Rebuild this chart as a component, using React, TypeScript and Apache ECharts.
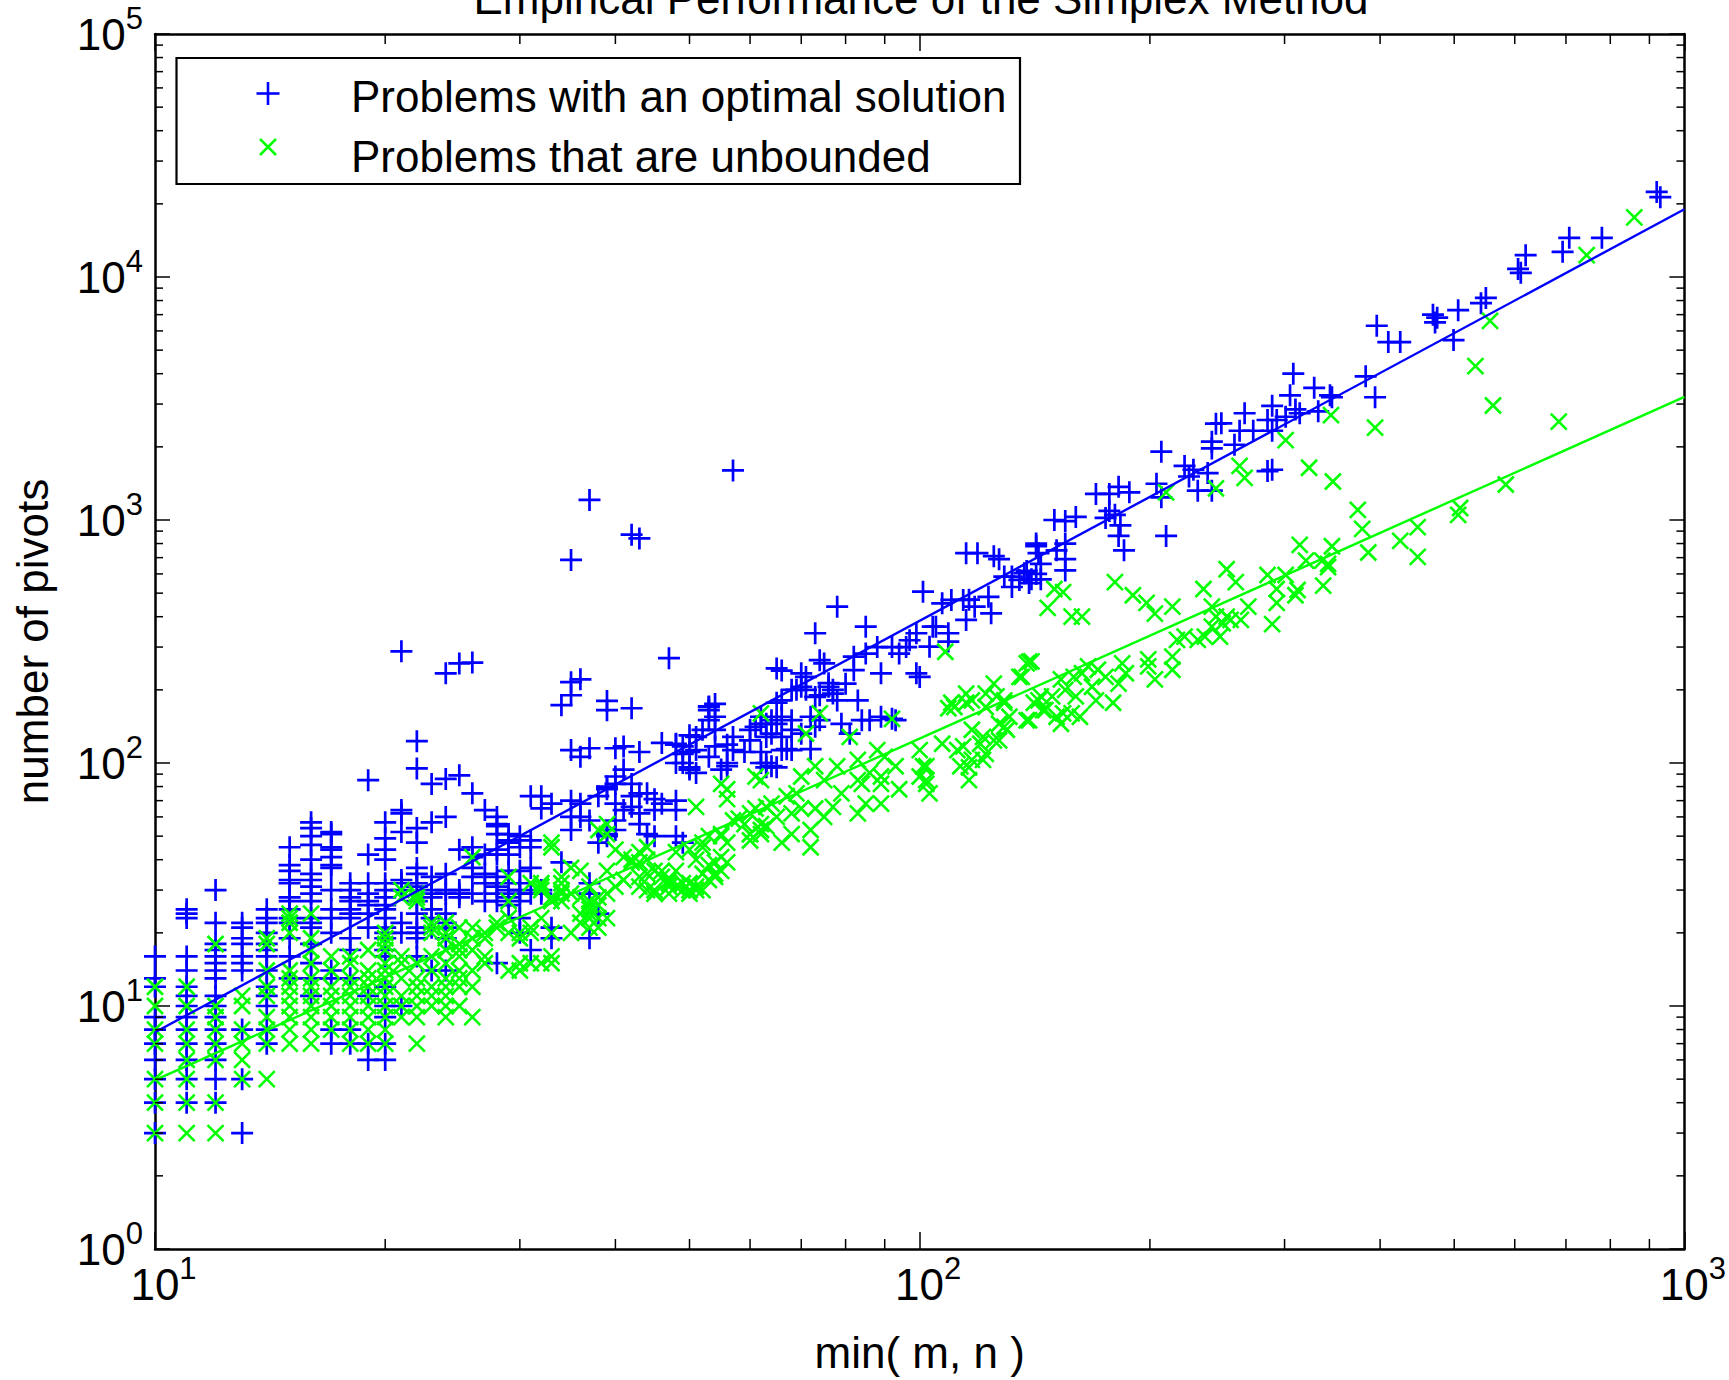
import React, { useEffect, useRef } from "react";
import * as echarts from "echarts";

const BLUE = "#0000ff";
const GREEN = "#00ff00";
const FONT = "'Liberation Sans', Arial, Helvetica, sans-serif";

const titleText = "Empirical Performance of the Simplex Method";
const xName = "min( m, n )";
const yName = "number of pivots";
const optimalName = "Problems with an optimal solution";
const unboundedName = "Problems that are unbounded";

// minor tick positions
const xMinorTicks = [20, 30, 40, 50, 60, 70, 80, 90, 200, 300, 400, 500, 600, 700, 800, 900];
const yMinorTicks = [
  2, 3, 4, 5, 6, 7, 8, 9,
  20, 30, 40, 50, 60, 70, 80, 90,
  200, 300, 400, 500, 600, 700, 800, 900,
  2000, 3000, 4000, 5000, 6000, 7000, 8000, 9000,
  20000, 30000, 40000, 50000, 60000, 70000, 80000, 90000,
];

// ---- Problems with an optimal solution ----
const optimalColX = [10, 11, 12, 13, 14, 15, 16, 17, 18, 19, 20, 21, 22, 23, 24, 25];
const optimalColY = [
  [16, 13, 12, 9, 8, 7, 6, 5, 4, 3],
  [25, 24, 23, 16, 14, 12, 11, 10, 9, 8, 7, 6, 5, 4],
  [30, 22, 18, 17, 16, 15, 14, 13, 11, 10, 9, 8, 7, 6, 5, 4],
  [22, 21, 19, 18, 16, 15, 14, 8, 5, 3],
  [25, 23, 22, 20, 18, 17, 16, 14, 12, 11, 10, 8, 7],
  [45, 38, 36, 33, 32, 28, 27, 25, 23, 22, 19, 16, 13],
  [57, 54, 50, 46, 40, 35, 33, 31, 29, 27, 23, 22, 21, 18, 15, 13, 11],
  [52, 51, 45, 44, 41, 38, 37, 30, 25, 23, 20, 14, 13, 8, 7],
  [32, 30, 28, 27, 25, 24, 23, 19, 17, 13, 8, 7],
  [85, 42, 32, 29, 27, 26, 24, 21, 11, 7, 6],
  [57, 49, 44, 40, 32, 30, 28, 26, 25, 23, 21, 20, 19, 17, 16, 12, 10, 9, 7, 6],
  [288, 64, 62, 52, 33, 32, 30, 22, 20, 10],
  [123, 95, 54, 47, 37, 35, 32, 31, 27, 24, 21, 20, 19, 16],
  [82, 57, 34, 30, 29, 28, 25, 23, 21, 14],
  [234, 86, 60, 35, 30, 29, 24, 22, 21, 19, 14],
  [257, 89, 30, 29],
];
const optimalMid: [number, number][] = [
  [26, 259], [47, 270], [36, 221], [35, 215], [35, 190], [34, 173], [39, 180], [39, 165], [42, 168],
  [26, 75], [27, 64], [28, 60], [28, 55], [29, 51], [26, 45], [27, 42], [26, 34], [27, 32], [28, 32],
  [30, 29], [30, 45], [31, 48], [32, 73], [33, 68], [31, 73], [32, 65], [28, 56],
  [28, 51], [29, 48], [30, 50], [31, 45], [29, 42], [28, 44], [28, 42], [26, 41], [26, 37], [27, 35],
  [28, 34], [28, 31], [28, 29], [29, 28], [29, 26], [25, 44], [25, 28], [26, 29], [27, 27],
  [32, 29], [31, 29], [30, 36], [31, 37], [30, 32],
  [34, 39], [37, 32], [37, 29], [38, 24], [37, 19], [33, 21], [33, 19], [31, 17], [30, 23], [30, 20], [28, 15],
  [39, 80], [39, 78], [40, 82], [40, 88], [41, 94], [42, 82], [42, 73], [43, 75], [40, 68], [41, 64],
  [42, 66], [45, 71], [45, 64], [46, 68], [43, 62], [40, 58], [40, 53], [39, 51], [38, 47], [39, 50],
  [43, 56], [44, 51], [45, 50], [48, 70], [48, 50],
  [35, 113], [36, 106], [37, 115], [41, 117], [43, 111], [48, 119], [49, 117], [50, 111], [49, 100],
  [50, 94], [51, 91], [52, 137], [54, 137], [56, 119], [56, 100], [57, 128], [59, 111], [60, 137],
  [62, 111], [62, 100], [63, 100],
  [35, 70], [36, 68], [35, 60], [36, 60], [37, 58], [35, 53], [38, 73], [48, 64], [49, 47], [44, 75],
  [40, 115], [46, 121], [50, 130], [53, 165], [54, 175], [53, 150],
  [48, 120], [51, 128], [53, 170], [54, 155], [51, 113], [53, 106], [49, 109], [48, 100], [50, 96],
  [54, 117], [55, 94], [57, 113], [61, 141], [63, 145], [65, 145], [62, 155], [63, 128], [66, 128],
  [68, 137], [63, 96], [65, 96], [66, 113], [68, 113],
  [28, 27], [29, 36], [29, 30], [30, 30], [32, 30], [30, 27], [29, 47],
];
const optimalUpper: [number, number][] = [
  [37, 1210], [42, 870], [43, 840], [35, 685], [57, 1600],
  [66, 181], [64, 132], [64, 150], [62, 145], [60, 124], [56, 97], [53, 171], [64, 97], [67, 114],
  [72, 114], [70, 132], [73, 141], [74, 150], [79, 145], [81, 132], [84, 150], [92, 152],
  [69, 200], [71, 200], [73, 187], [74, 190], [76, 206], [77, 200], [78, 181], [76, 213], [75, 257],
  [74, 265], [82, 274], [85, 282], [82, 241], [83, 181], [66, 240], [70, 234], [70, 206], [65, 245],
  [71, 226], [65, 177], [66, 155], [68, 150], [68, 200], [72, 155], [80, 212], [77, 193], [86, 150],
  [89, 155], [93, 150],
  [85, 364], [88, 300], [92, 300], [94, 282], [96, 300], [99, 234], [100, 226], [89, 234], [78, 440],
  [73, 342], [99, 342], [97, 320],
  [101, 507], [107, 454], [110, 469], [114, 469], [116, 470], [118, 440], [123, 483], [124, 413],
  [115, 388], [109, 342], [109, 316], [104, 364], [105, 364], [103, 301], [115, 730], [119, 730],
  [125, 710], [127, 690], [129, 585], [132, 585], [135, 567], [137, 604], [139, 550], [132, 530],
  [142, 780], [143, 730], [144, 660], [140, 570], [144, 570], [150, 1000], [155, 990], [160, 1030],
  [155, 800], [151, 750], [155, 620], [155, 690], [142, 800], [138, 617], [142, 600],
  [170, 1280], [177, 1280], [182, 1370], [188, 1300], [180, 1050], [182, 860], [185, 750], [175, 1020],
  [177, 1090], [183, 950],
  [222, 1670], [228, 1610], [225, 1510], [231, 1320], [241, 1320], [238, 1560], [207, 1910], [204, 1410],
  [207, 1240], [210, 860],
  [266, 2750], [262, 2330], [273, 2330], [248, 2500], [244, 2490], [241, 2100], [241, 1970], [258, 2040],
  [289, 2950], [285, 2580], [289, 2330], [289, 1610], [285, 1590],
  [308, 4000], [328, 3500], [344, 3260], [346, 3200], [332, 2800], [305, 3260], [314, 2750], [301, 2660],
  [310, 2850], [293, 2580],
  [383, 3900], [394, 3200], [396, 6300], [410, 5400], [425, 5400],
  [550, 8200], [542, 7800], [506, 7300], [469, 7000], [475, 6800], [472, 6500], [499, 5500],
  [620, 12300], [606, 10800], [611, 10400], [780, 14500], [707, 14500], [693, 12700], [920, 22400], [930, 21300],
];

// ---- Problems that are unbounded ----
const unboundedColX = [10, 11, 12, 13, 14, 15, 16, 17, 18, 19, 20, 21, 22, 23, 24, 25];
const unboundedColY = [
  [12, 10, 8, 7, 5, 4, 3],
  [12, 10, 8, 7, 6, 5, 4, 3],
  [18, 10, 9, 8, 7, 6, 4, 3],
  [11, 10, 8, 7, 6, 5],
  [19, 18, 14, 12, 11, 9, 8, 7, 5],
  [24, 23, 22, 20, 14, 13, 12, 11, 10, 9, 8, 7],
  [24, 19, 17, 15, 13, 12, 11, 10, 9, 8, 7],
  [16, 14, 12, 11, 10, 9, 8],
  [16, 15, 13, 12, 11, 10, 9, 8, 7],
  [17, 14, 13, 12, 11, 10, 9, 8, 7],
  [20, 19, 18, 17, 15, 14, 13, 12, 11, 10, 9, 8, 7],
  [30, 28, 16, 15, 13, 11, 10, 9],
  [29, 28, 27, 15, 13, 12, 11, 10, 9, 7],
  [22, 21, 20, 16, 14, 12, 11, 10],
  [22, 20, 19, 17, 15, 13, 12, 11, 10, 9],
  [21, 18, 17, 16, 14, 13, 12, 10],
];
const unboundedMid: [number, number][] = [
  [33, 45], [35, 37], [36, 36], [32, 32], [32, 31], [34, 32], [34, 29], [33, 28], [33, 27], [37, 27],
  [37, 26], [37, 25], [36, 24], [38, 23], [37, 23], [36, 22], [38, 28], [39, 29], [40, 31], [41, 33],
  [43, 34], [44, 35], [45, 36], [46, 34], [47, 33], [48, 31], [49, 32], [50, 30], [51, 31], [53, 33],
  [43, 43], [44, 45], [42, 40], [43, 39], [41, 41], [40, 44], [48, 43], [51, 40], [53, 38], [54, 39],
  [55, 41], [52, 45], [53, 50], [55, 51], [57, 58], [58, 59], [60, 62], [62, 53], [62, 51], [61, 65],
  [63, 66], [64, 68], [56, 71], [51, 66], [62, 85], [55, 82], [59, 56], [60, 51], [43, 31], [44, 30],
  [45, 29], [47, 29], [49, 30], [50, 29], [52, 30], [52, 35], [54, 34], [55, 36],
  [26, 21], [26, 19], [27, 19], [27, 20], [28, 21], [29, 20], [30, 19], [31, 20], [31, 21],
  [26, 17], [27, 16], [26, 14], [26, 12], [26, 9], [27, 15], [30, 15], [31, 15], [33, 15],
  [33, 47], [36, 28], [34, 30], [38, 21], [29, 14], [28, 22], [29, 23], [39, 36], [42, 39], [44, 40],
  [46, 36], [47, 32], [50, 32], [50, 44], [52, 47], [55, 50], [56, 47], [54, 35], [56, 39], [51, 30],
  [48, 36], [45, 30], [47, 31],
  [26, 41], [32, 15], [33, 16], [38, 53], [39, 51], [39, 56], [29, 34], [29, 27], [31, 32], [32, 30],
  [34, 34], [37, 31], [35, 29], [34, 27], [30, 20], [30, 14], [32, 23], [33, 20], [37, 24], [38, 26],
  [39, 23], [37, 21], [35, 20],
];
const unboundedUpper: [number, number][] = [
  [60, 51], [62, 56], [65, 60], [68, 62], [70, 65], [73, 65], [75, 60], [72, 53], [68, 51], [63, 55],
  [60, 48], [66, 47], [72, 45], [83, 62], [85, 68], [89, 68], [89, 82], [84, 82], [79, 75], [77, 66],
  [94, 78], [100, 88], [102, 82], [101, 97], [93, 97], [89, 88],
  [117, 137], [121, 128], [120, 120], [125, 124], [129, 141], [122, 109], [114, 117], [117, 103],
  [113, 97], [116, 85], [100, 113], [102, 97], [102, 85], [103, 75], [88, 113], [90, 106], [86, 91],
  [83, 103], [81, 128], [83, 85], [78, 97], [75, 85], [70, 88], [73, 97], [69, 75], [67, 73], [61, 88],
  [56, 78], [62, 160], [71, 132], [74, 160], [92, 152], [108, 287],
  [107, 120], [112, 113], [115, 177], [111, 170], [122, 170], [126, 188], [135, 226], [138, 257],
  [121, 103], [116, 96], [130, 137], [141, 177], [149, 188], [155, 200], [159, 226], [162, 155], [170, 181],
  [139, 261], [136, 226], [125, 212], [122, 193], [115, 193], [110, 177], [109, 168], [117, 181],
  [129, 181], [131, 155], [139, 150], [143, 181], [146, 165], [151, 155], [154, 160],
  [199, 267], [199, 250], [214, 274], [214, 242], [203, 221], [184, 257], [186, 234], [182, 212],
  [175, 226], [171, 242], [168, 206], [179, 177], [166, 250], [163, 234], [153, 221], [160, 188],
  [158, 160], [153, 145], [145, 165], [138, 150], [140, 262], [144, 188], [129, 177], [127, 145], [127, 124],
  [241, 364], [247, 331], [236, 331], [231, 321], [222, 331], [217, 321], [255, 388], [263, 388],
  [249, 376], [244, 400], [312, 515],
  [150, 520], [154, 505], [147, 435], [158, 400], [163, 400], [180, 555], [190, 490], [198, 456],
  [203, 412], [214, 440], [235, 520], [241, 440], [252, 627], [259, 555], [252, 400], [269, 440],
  [285, 594], [293, 520], [301, 594], [293, 456], [310, 490], [289, 373], [337, 537], [342, 660],
  [860, 17600], [745, 12300], [557, 6600], [533, 4300], [562, 2960], [685, 2540], [394, 2400], [345, 2700],
  [301, 2130], [262, 1670], [266, 1490], [244, 1350], [323, 1640], [347, 1440], [210, 1300], [374, 1100],
  [379, 920], [314, 790], [346, 780], [320, 680], [336, 680], [342, 640], [386, 735], [425, 820],
  [448, 935], [448, 705], [509, 1120], [506, 1050], [584, 1400],
];

// least-squares fit lines (end points)
const optimalFit: [number, number][] = [[10, 7.8], [1000, 19000]];
const unboundedFit: [number, number][] = [[10, 4.95], [1000, 3210]];

function expand(xs: number[], ys: number[][]): [number, number][] {
  const out: [number, number][] = [];
  xs.forEach((x, i) => ys[i].forEach((y) => out.push([x, y])));
  return out;
}

const PLUS = "path://M10,0L10,20M0,10L20,10";
const CROSS = "path://M0,0L14,14M14,0L0,14";

const expOf = (v: number) => Math.round(Math.log10(v));

const richLabel = {
  sp: { width: 17, fontSize: 31, fontFamily: FONT },
  b: { fontSize: 44, lineHeight: 62, fontFamily: FONT, color: "#000" },
  s: { fontSize: 31, lineHeight: 31, verticalAlign: "top", fontFamily: FONT, color: "#000" },
};

export default function App() {
  const ref = useRef<HTMLDivElement>(null);
  useEffect(() => {
    if (!ref.current) return;
    const chart = echarts.init(ref.current, null, { renderer: "svg" });
    const frame = { show: true, onZero: false, lineStyle: { color: "#000", width: 2.5 } };
    const tickX = { show: true, inside: true, length: 17, lineStyle: { color: "#000", width: 1.5 } };
    const tickY = { show: true, inside: true, length: 15, lineStyle: { color: "#000", width: 1.5 } };
    const nameStyle = { fontSize: 44, fontFamily: FONT, color: "#000" };
    const optimalPoints = expand(optimalColX, optimalColY).concat(optimalMid, optimalUpper);
    const unboundedPoints = expand(unboundedColX, unboundedColY).concat(unboundedMid, unboundedUpper);

    const option: any = {
      animation: false,
      backgroundColor: "#fff",
      title: {
        text: titleText,
        left: 921,
        top: -24,
        textAlign: "center",
        padding: 0,
        textStyle: { fontSize: 44, fontWeight: "normal", fontFamily: FONT, color: "#000" },
      },
      grid: { left: 155, top: 34, width: 1532, height: 1215, containLabel: false },
      xAxis: [
        {
          type: "log", logBase: 10, min: 10, max: 1000, position: "bottom",
          splitLine: { show: false }, axisLine: frame, axisTick: tickX,
          axisLabel: {
            show: true, margin: 4, showMinLabel: true, showMaxLabel: true,
            formatter: (v: number) => `{sp| }{b|10}{s|${expOf(v)}}`,
            rich: richLabel,
          },
          name: xName, nameLocation: "middle", nameGap: 81, nameTextStyle: nameStyle,
        },
        {
          type: "log", logBase: 10, min: 10, max: 1000, position: "top",
          splitLine: { show: false }, axisLine: frame, axisTick: tickX, axisLabel: { show: false },
        },
      ],
      yAxis: [
        {
          type: "log", logBase: 10, min: 1, max: 100000, position: "left",
          splitLine: { show: false }, axisLine: frame, axisTick: tickY,
          axisLabel: {
            show: true, margin: 12, showMinLabel: true, showMaxLabel: true,
            formatter: (v: number) => `{b|10}{s|${expOf(v)}}`,
            rich: richLabel,
          },
          name: yName, nameLocation: "middle", nameGap: 101, nameTextStyle: nameStyle,
        },
        {
          type: "log", logBase: 10, min: 1, max: 100000, position: "right",
          splitLine: { show: false }, axisLine: frame, axisTick: tickY, axisLabel: { show: false },
        },
      ],
      series: [
        {
          type: "custom", name: "xminor", xAxisIndex: 0, yAxisIndex: 0, silent: true, clip: false, z: 5,
          data: xMinorTicks.map((v) => [v, 1]),
          renderItem: (params: any, api: any) => {
            const cs = params.coordSys;
            const px = api.coord([api.value(0), 1])[0];
            const yb = cs.y + cs.height;
            const yt = cs.y;
            return {
              type: "group",
              children: [
                { type: "line", shape: { x1: px, y1: yb, x2: px, y2: yb - 10 }, style: { stroke: "#000", lineWidth: 1.5 } },
                { type: "line", shape: { x1: px, y1: yt, x2: px, y2: yt + 10 }, style: { stroke: "#000", lineWidth: 1.5 } },
              ],
            };
          },
        },
        {
          type: "custom", name: "yminor", xAxisIndex: 0, yAxisIndex: 0, silent: true, clip: false, z: 5,
          data: yMinorTicks.map((v) => [10, v]),
          renderItem: (params: any, api: any) => {
            const cs = params.coordSys;
            const py = api.coord([10, api.value(1)])[1];
            const xl = cs.x;
            const xr = cs.x + cs.width;
            return {
              type: "group",
              children: [
                { type: "line", shape: { x1: xl, y1: py, x2: xl + 8, y2: py }, style: { stroke: "#000", lineWidth: 1.5 } },
                { type: "line", shape: { x1: xr, y1: py, x2: xr - 8, y2: py }, style: { stroke: "#000", lineWidth: 1.5 } },
              ],
            };
          },
        },
        {
          type: "scatter", name: optimalName, data: optimalPoints,
          symbol: PLUS, symbolSize: 22, z: 2,
          itemStyle: { color: BLUE, borderColor: BLUE, borderWidth: 2.7, opacity: 1 },
        },
        {
          type: "scatter", name: unboundedName, data: unboundedPoints,
          symbol: CROSS, symbolSize: 16, z: 2,
          itemStyle: { color: GREEN, borderColor: GREEN, borderWidth: 2.6, opacity: 1 },
        },
        {
          type: "line", name: "optimal fit", data: optimalFit, showSymbol: false, symbol: "none", z: 3,
          lineStyle: { color: BLUE, width: 2.4 },
        },
        {
          type: "line", name: "unbounded fit", data: unboundedFit, showSymbol: false, symbol: "none", z: 3,
          lineStyle: { color: GREEN, width: 2.4 },
        },
      ],
      graphic: [
        {
          type: "rect", z: 100,
          shape: { x: 176.5, y: 58, width: 843.5, height: 126 },
          style: { fill: "#fff", stroke: "#000", lineWidth: 2.2 },
        },
        { type: "line", z: 101, shape: { x1: 256.5, y1: 93.5, x2: 279.5, y2: 93.5 }, style: { stroke: BLUE, lineWidth: 2.6 } },
        { type: "line", z: 101, shape: { x1: 268, y1: 82, x2: 268, y2: 105 }, style: { stroke: BLUE, lineWidth: 2.6 } },
        { type: "line", z: 101, shape: { x1: 260, y1: 139, x2: 276, y2: 155 }, style: { stroke: GREEN, lineWidth: 2.5 } },
        { type: "line", z: 101, shape: { x1: 276, y1: 139, x2: 260, y2: 155 }, style: { stroke: GREEN, lineWidth: 2.5 } },
        {
          type: "text", z: 101, x: 351, y: 96.5,
          style: { text: optimalName, fontSize: 44, fontFamily: FONT, fill: "#000", align: "left", verticalAlign: "middle" },
        },
        {
          type: "text", z: 101, x: 351, y: 156.5,
          style: { text: unboundedName, fontSize: 44, fontFamily: FONT, fill: "#000", align: "left", verticalAlign: "middle" },
        },
      ],
    };
    chart.setOption(option);
    return () => chart.dispose();
  }, []);
  return (
    <div
      ref={ref}
      style={{ position: "absolute", left: 0, top: 0, width: 1729, height: 1380, background: "#fff" }}
    />
  );
}
